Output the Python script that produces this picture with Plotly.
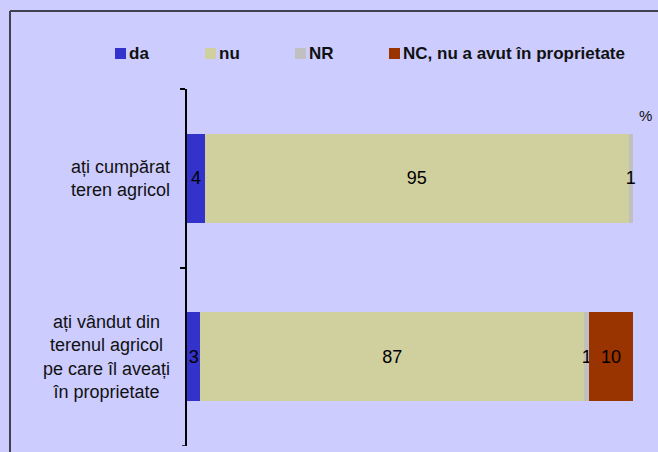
import plotly.graph_objects as go

# categories (top to bottom) and answers
categories = ["ați cumpărat<br>teren agricol",
              "ați vândut din<br>terenul agricol<br>pe care îl aveați<br>în proprietate"]
series_names = ["da", "nu", "NR", "NC, nu a avut în proprietate"]
da = [4, 3]
nu = [95, 87]
nr = [1, 1]
nc = [0, 10]
colors = ["#3333CC", "#D0CF9E", "#C0C0C0", "#993300"]

W, H = 658, 452
L, R, T, B = 187, 25, 89, 6
pw, ph = W - L - R, H - T - B
font = "Arial, Liberation Sans, sans-serif"

def px_x(x):
    return (x - L) / pw

def px_y(y):
    return (H - B - y) / ph

fig = go.Figure()
for name, vals, col in zip(series_names, [da, nu, nr, nc], colors):
    fig.add_trace(go.Bar(
        y=categories, x=vals, name=name, orientation="h",
        marker=dict(color=col, line=dict(width=0)),
        text=[str(v) if v else "" for v in vals],
        texttemplate="%{text}",
        textposition="inside", insidetextanchor="middle",
        constraintext="none", cliponaxis=False,
        textfont=dict(family=font, size=18, color="black"),
        hoverinfo="skip", showlegend=False,
    ))

# category labels as centred text blocks left of the axis
annotations = [dict(xref="paper", yref="y", x=px_x(172), y=c,
                    text=c, showarrow=False, xanchor="right", yanchor="middle",
                    align="center", font=dict(family=font, size=18, color="#111111"))
               for c in categories]
annotations.append(dict(xref="paper", yref="paper", x=px_x(645), y=px_y(116),
                        text="%", showarrow=False, xanchor="center", yanchor="middle",
                        font=dict(family=font, size=15, color="#111111")))

shapes = [
    dict(type="line", xref="paper", yref="paper",
         x0=px_x(10), x1=px_x(W + 5), y0=px_y(11), y1=px_y(11),
         line=dict(color="#404050", width=2)),
    dict(type="line", xref="paper", yref="paper",
         x0=px_x(10), x1=px_x(10), y0=px_y(11), y1=-0.1,
         line=dict(color="#404050", width=2)),
    # closing tick at the bottom of the category axis
    dict(type="line", xref="paper", yref="y",
         x0=px_x(182), x1=0, y0=1.5, y1=1.5,
         line=dict(color="black", width=1.5)),
]

# legend drawn by hand: small square + bold label
legend_x = [115, 205, 295, 389]
for name, col, lx in zip(series_names, colors, legend_x):
    shapes.append(dict(type="rect", xref="paper", yref="paper",
                       x0=px_x(lx), x1=px_x(lx + 11), y0=px_y(59), y1=px_y(48),
                       fillcolor=col, line=dict(width=0)))
    annotations.append(dict(xref="paper", yref="paper", x=px_x(lx + 12), y=px_y(53.5),
                            text="<b>" + name + "</b>", showarrow=False,
                            xanchor="left", yanchor="middle",
                            font=dict(family=font, size=17, color="#111111")))

fig.update_layout(
    width=W, height=H,
    margin=dict(l=L, r=R, t=T, b=B),
    barmode="stack", barnorm="percent", bargap=0.5,
    paper_bgcolor="#CCCCFF", plot_bgcolor="#CCCCFF",
    showlegend=False,
    xaxis=dict(range=[0, 100], visible=False, fixedrange=True),
    yaxis=dict(range=[1.5, -0.5], showticklabels=False, tickson="boundaries",
               ticks="outside", ticklen=5, tickwidth=1.5, tickcolor="black",
               showline=True, linecolor="black", linewidth=1.5,
               showgrid=False, zeroline=False, fixedrange=True),
    annotations=annotations,
    shapes=shapes,
)

fig.write_html("out.html", config={"displayModeBar": False},
               post_script="document.body.style.margin='0';")
